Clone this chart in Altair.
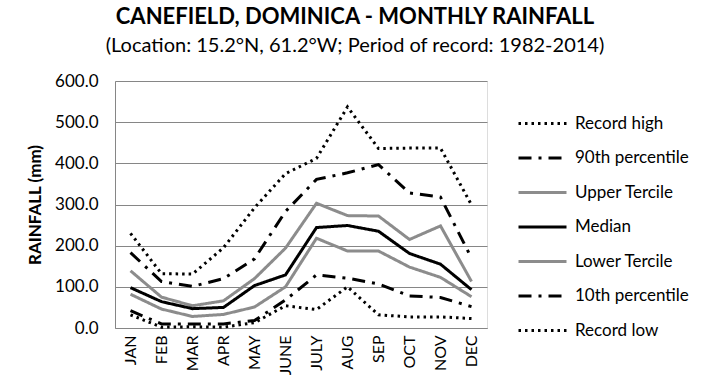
import altair as alt
import pandas as pd

months = ["JAN", "FEB", "MAR", "APR", "MAY", "JUNE", "JULY", "AUG", "SEP", "OCT", "NOV", "DEC"]
series_names = ["Record high", "90th percentile", "Upper Tercile", "Median",
                "Lower Tercile", "10th percentile", "Record low"]
record_high = [230, 132, 131, 195, 292, 375, 412, 537, 436, 437, 437, 299]
p90 = [183, 113, 101, 120, 168, 283, 361, 377, 397, 328, 318, 170]
upper_tercile = [139, 75, 54, 66, 120, 194, 303, 273, 272, 215, 248, 113]
median = [98, 64, 47, 50, 103, 129, 244, 249, 235, 181, 155, 93]
lower_tercile = [82, 46, 28, 33, 51, 100, 218, 187, 187, 148, 123, 76]
p10 = [42, 10, 10, 10, 18, 68, 129, 121, 107, 78, 74, 52]
record_low = [32, 2, 3, 2, 13, 54, 45, 100, 32, 27, 27, 23]

series_values = [record_high, p90, upper_tercile, median, lower_tercile, p10, record_low]
series_colors = ["black", "black", "#8c8c8c", "black", "#8c8c8c", "black", "black"]
series_dashes = [[2.5, 4], [13, 7, 3, 7], [1, 0], [1, 0], [1, 0], [13, 7, 3, 7], [2.5, 4]]

rows = []
for name, vals in zip(series_names, series_values):
    for m, v in zip(months, vals):
        rows.append({"month": m, "series": name, "value": v})
df = pd.DataFrame(rows)

FONT = "Lato"

legend_opts = dict(title=None, orient="none", legendX=402, legendY=17,
                   symbolType="stroke", symbolSize=2304, symbolStrokeWidth=3,
                   labelFontSize=17, labelFont=FONT, labelColor="black",
                   labelOffset=7, rowPadding=0.5)

chart = alt.Chart(df).mark_line(strokeWidth=3).encode(
    x=alt.X("month:N", sort=months, scale=alt.Scale(type="point", padding=0.5),
            axis=alt.Axis(title=None, labelAngle=270, ticks=False, grid=False,
                          labelFontSize=16, labelPadding=7, labelColor="black",
                          labelFont=FONT, domainColor="#868686")),
    y=alt.Y("value:Q", scale=alt.Scale(domain=[0, 600], nice=False),
            axis=alt.Axis(title="RAINFALL (mm)", values=[0, 100, 200, 300, 400, 500, 600],
                          format=".1f", ticks=False, labelFontSize=17, labelColor="black",
                          labelFont=FONT, labelPadding=17, titleFont=FONT, titleFontSize=17,
                          titleFontWeight="bold", titleColor="black", titlePadding=10,
                          gridColor="#868686", gridWidth=1, domainColor="#868686")),
    color=alt.Color("series:N", sort=series_names,
                    scale=alt.Scale(domain=series_names, range=series_colors),
                    legend=alt.Legend(**legend_opts)),
    strokeDash=alt.StrokeDash("series:N", sort=series_names,
                              scale=alt.Scale(domain=series_names, range=series_dashes),
                              legend=alt.Legend(**legend_opts)),
    detail="series:N",
).properties(
    width=372,
    height=247,
    autosize=alt.AutoSizeParams(type="none"),
    padding={"left": 115, "top": 81, "right": 223, "bottom": 47},
    title=alt.TitleParams(
        text="CANEFIELD, DOMINICA - MONTHLY RAINFALL",
        subtitle="(Location: 15.2°N, 61.2°W; Period of record: 1982-2014)",
        anchor="middle", dx=54, offset=15,
        font=FONT, fontSize=22, fontWeight="bold", color="black",
        subtitleFont=FONT, subtitleFontSize=20, subtitleColor="black", subtitlePadding=7,
    ),
).configure_view(stroke=None).configure(background="white")

chart.save("out.html", embed_options={"renderer": "svg", "actions": False})
